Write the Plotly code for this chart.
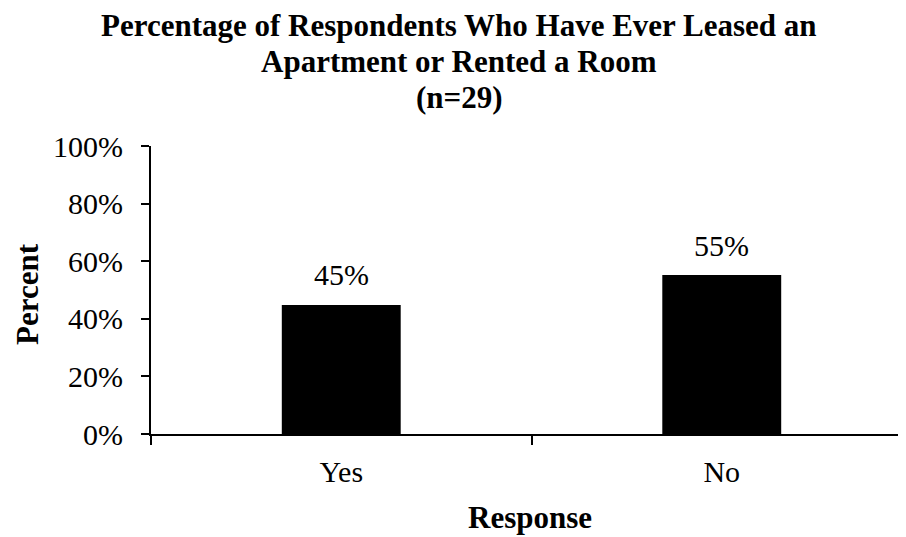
import plotly.graph_objects as go

categories = ["Yes", "No"]
positions = [0, 1]
percent = [44.8, 55.2]
labels = ["45%", "55%"]
y_ticks = [0, 20, 40, 60, 80, 100]
y_tick_text = ["0%", "20%", "40%", "60%", "80%", "100%"]
title_lines = [
    "Percentage of Respondents Who Have Ever Leased an",
    "Apartment or Rented a Room",
    "(n=29)",
]

OFF = 8  # page body margin
W, H = 906 - OFF, 537 - OFF
L, R, T = 151 - OFF, 0, 146 - OFF
ph = 288
B = H - T - ph
pw = W - L - R
FONT = "Liberation Serif"
TICK_SIZE = 30
BOLD_SIZE = 31


def px_x(p):
    return (p - OFF - L) / pw


def px_y(p):
    return (T + ph - (p - OFF)) / ph


fig = go.Figure()
fig.add_trace(go.Bar(
    x=positions, y=percent, width=0.3125,
    marker=dict(color="black", line=dict(width=0)),
    hoverinfo="skip", xaxis="x", yaxis="y",
))

xr = [-0.5, -0.5 + pw / 380.5]

annotations = []
for xv, yv, t in zip(positions, percent, labels):
    annotations.append(dict(x=xv, y=yv, xref="x", yref="y", text=t,
                            showarrow=False, yanchor="middle", yshift=30,
                            font=dict(size=TICK_SIZE, color="black", family=FONT)))

title_y_px = [26, 62, 98]
for line, py in zip(title_lines, title_y_px):
    annotations.append(dict(x=px_x(459), y=px_y(py), xref="paper", yref="paper",
                            text="<b>" + line + "</b>", showarrow=False,
                            xanchor="center", yanchor="middle", borderpad=0,
                            font=dict(size=BOLD_SIZE, color="black", family=FONT)))

annotations.append(dict(x=px_x(27), y=px_y(294), xref="paper", yref="paper",
                        text="<b>Percent</b>", textangle=-90, showarrow=False,
                        xanchor="center", yanchor="middle",
                        font=dict(size=BOLD_SIZE, color="black", family=FONT)))
annotations.append(dict(x=px_x(530), y=px_y(517), xref="paper", yref="paper",
                        text="<b>Response</b>", showarrow=False,
                        xanchor="center", yanchor="middle",
                        font=dict(size=BOLD_SIZE, color="black", family=FONT)))

fig.update_layout(
    width=W, height=H,
    margin=dict(l=L, r=R, t=T, b=B, pad=0),
    paper_bgcolor="white", plot_bgcolor="white",
    showlegend=False,
    font=dict(family=FONT, color="black", size=TICK_SIZE),
    xaxis=dict(range=xr, tickvals=positions, ticktext=categories, ticks="",
               showline=True, linecolor="black", linewidth=2, showgrid=False,
               zeroline=False, ticklabelstandoff=10,
               tickfont=dict(size=TICK_SIZE, family=FONT, color="black"), fixedrange=True),
    xaxis2=dict(range=xr, overlaying="x", anchor="y", side="bottom",
                tickvals=[-0.5, 0.5], ticks="outside", ticklen=10, tickwidth=2,
                tickcolor="black", showticklabels=False, showline=False,
                showgrid=False, zeroline=False, fixedrange=True),
    yaxis=dict(range=[0, 100], tickvals=y_ticks, ticktext=y_tick_text, ticks="outside",
               ticklen=8, tickwidth=2, tickcolor="black",
               showline=True, linecolor="black", linewidth=2, showgrid=False,
               zeroline=False, ticklabelstandoff=12,
               tickfont=dict(size=TICK_SIZE, family=FONT, color="black"), fixedrange=True),
    annotations=annotations,
)
fig.add_trace(go.Scatter(x=[None], y=[None], xaxis="x2", yaxis="y",
                         showlegend=False, hoverinfo="skip"))

fig.write_html("out.html")
